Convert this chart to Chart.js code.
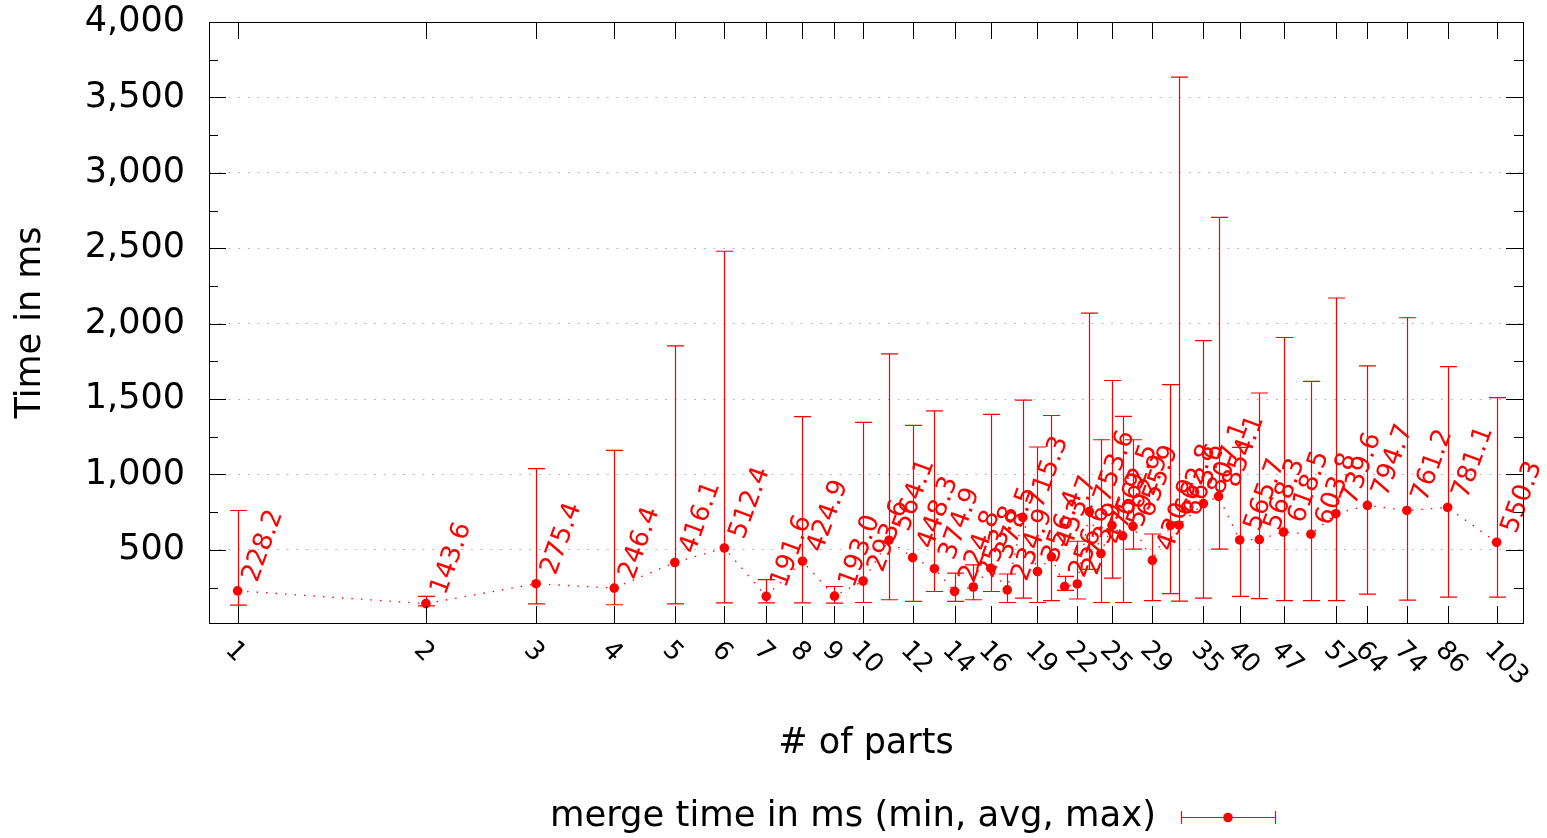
<!DOCTYPE html>
<html>
<head>
<meta charset="utf-8">
<script src="https://cdn.jsdelivr.net/npm/chart.js@4.4.1/dist/chart.umd.min.js"></script>
<style>
  html, body { margin: 0; padding: 0; background: #fff; }
</style>
</head>
<body>
<canvas id="mergeChart" width="1547" height="838"></canvas>
<script>
// merge time per number of parts (ms)
var parts = [1, 2, 3, 4, 5, 6, 7, 8, 9, 10, 11, 12, 13, 14, 15, 16, 17, 18, 19, 20,
             21, 22, 23, 24, 25, 26, 27, 29, 31, 32, 35, 37, 40, 43, 47, 52, 57, 64, 74, 86, 103];
var avgMs = [228.2, 143.6, 275.4, 246.4, 416.1, 512.4, 191.6, 424.9, 193.0, 293.6,
             564.1, 448.3, 374.9, 224.8, 253.8, 378.5, 234.9, 715.3, 356.4, 453.7,
             256.6, 273.9, 753.6, 475.9, 662.5, 592.9, 655.9, 430.9, 662.8, 663.6,
             807.1, 854.1, 565.7, 568.3, 618.5, 603.8, 739.6, 794.7, 761.2, 781.1, 550.3];
var minMs = [134, 129, 142, 136, 142, 149, 149, 149, 147, 151,
             169, 158, 224, 158, 169, 224, 151, 180, 151, 164,
             231, 174, 370, 151, 313, 151, 505, 164, 210, 160,
             180, 505, 191, 176, 164, 164, 164, 207, 167, 187, 187];
var maxMs = [761, 191, 1038, 1160, 1853, 2480, 302, 1383, 257, 1345,
             1800, 1325, 1422, 346, 401, 1398, 340, 1493, 1182, 1391,
             324, 557, 2070, 1230, 1623, 1385, 1230, 605, 1595, 3635,
             1887, 2704, 1180, 1540, 1908, 1617, 2170, 1720, 2039, 1715, 1510];
var tickParts = [1, 2, 3, 4, 5, 6, 7, 8, 9, 10, 12, 14, 16, 19, 22, 25, 29, 35, 40, 47, 57, 64, 74, 86, 103];
var yTicks = [500, 1000, 1500, 2000, 2500, 3000, 3500, 4000];

var RED = '#ff0000';
var FONT = '"DejaVu Sans", sans-serif';
var CAP = 8.5;

var gnuplotLook = {
    id: 'gnuplotLook',
    beforeDatasetsDraw: function(chart) {
        var ctx = chart.ctx, xs = chart.scales.x, ys = chart.scales.y;
        ctx.save();
        ctx.strokeStyle = RED;
        ctx.lineWidth = 1.2;
        for (var i = 0; i < parts.length; i++) {
            var px = Math.round(xs.getPixelForValue(parts[i])) + 0.5;
            var top = ys.getPixelForValue(maxMs[i]);
            var bot = ys.getPixelForValue(minMs[i]);
            ctx.beginPath();
            ctx.moveTo(px, top);
            ctx.lineTo(px, bot);
            ctx.moveTo(px - CAP, top);
            ctx.lineTo(px + CAP, top);
            ctx.moveTo(px - CAP, bot);
            ctx.lineTo(px + CAP, bot);
            ctx.stroke();
        }
        ctx.restore();
    },
    afterDatasetsDraw: function(chart) {
        var ctx = chart.ctx, xs = chart.scales.x, ys = chart.scales.y;
        ctx.save();
        ctx.fillStyle = RED;
        ctx.font = '26px ' + FONT;
        ctx.textAlign = 'left';
        ctx.textBaseline = 'middle';
        for (var i = 0; i < parts.length; i++) {
            var px = xs.getPixelForValue(parts[i]);
            var py = ys.getPixelForValue(avgMs[i]);
            ctx.save();
            ctx.translate(px + 13, py - 10);
            ctx.rotate(-70 * Math.PI / 180);
            ctx.fillText(avgMs[i].toFixed(1), 0, 0);
            ctx.restore();
        }
        ctx.restore();
    },
    afterDraw: function(chart) {
        var ctx = chart.ctx, xs = chart.scales.x, ys = chart.scales.y;
        var a = chart.chartArea;
        ctx.save();
        // frame
        ctx.strokeStyle = '#000';
        ctx.lineWidth = 1;
        ctx.strokeRect(Math.round(a.left) + 0.5, Math.round(a.top) + 0.5,
                       Math.round(a.right - a.left), Math.round(a.bottom - a.top));
        // y ticks, inward on both sides, minor ticks halfway
        ctx.beginPath();
        for (var v = 250; v <= 4000; v += 250) {
            var y = Math.round(ys.getPixelForValue(v)) + 0.5;
            var len = (v % 500 === 0) ? 17 : 9;
            ctx.moveTo(a.left, y); ctx.lineTo(a.left + len, y);
            ctx.moveTo(a.right, y); ctx.lineTo(a.right - len, y);
        }
        // x ticks, bottom and top
        tickParts.forEach(function(t) {
            var x = Math.round(xs.getPixelForValue(t)) + 0.5;
            ctx.moveTo(x, a.bottom); ctx.lineTo(x, a.bottom - 17);
            ctx.moveTo(x, a.top); ctx.lineTo(x, a.top + 17);
        });
        ctx.stroke();
        // x tick labels rotated by -45
        ctx.fillStyle = '#000';
        ctx.font = '26px ' + FONT;
        ctx.textAlign = 'left';
        ctx.textBaseline = 'alphabetic';
        tickParts.forEach(function(t) {
            var x = xs.getPixelForValue(t);
            ctx.save();
            ctx.translate(x - 13, a.bottom + 28);
            ctx.rotate(Math.PI / 4);
            ctx.fillText(String(t), 0, 0);
            ctx.restore();
        });
        // x axis title
        ctx.font = '35px ' + FONT;
        ctx.textAlign = 'center';
        ctx.textBaseline = 'middle';
        ctx.fillText('# of parts', (a.left + a.right) / 2, 744);
        // key
        ctx.font = '35.4px ' + FONT;
        ctx.textAlign = 'right';
        ctx.fillText('merge time in ms (min, avg, max)', 1156, 817);
        ctx.strokeStyle = RED;
        ctx.lineWidth = 1.2;
        ctx.beginPath();
        ctx.moveTo(1181, 817.5); ctx.lineTo(1276, 817.5);
        ctx.moveTo(1181.5, 811); ctx.lineTo(1181.5, 824);
        ctx.moveTo(1275.5, 811); ctx.lineTo(1275.5, 824);
        ctx.stroke();
        ctx.fillStyle = RED;
        ctx.beginPath();
        ctx.arc(1228, 817.5, 4.8, 0, Math.PI * 2);
        ctx.fill();
        ctx.restore();
    }
};

var ctx = document.getElementById('mergeChart');
var mergeChart = new Chart(ctx, {
    type: 'scatter',
    data: {
        datasets: [{
            label: 'merge time in ms (min, avg, max)',
            data: parts.map(function(p, i) { return {x: p, y: avgMs[i]}; }),
            showLine: true,
            borderColor: RED,
            borderWidth: 1.3,
            borderDash: [1.5, 8],
            pointRadius: 4.8,
            pointBorderWidth: 0,
            pointBackgroundColor: RED
        }]
    },
    options: {
        responsive: false,
        animation: false,
        devicePixelRatio: 1,
        layout: { padding: { left: 0, top: 22, right: 24, bottom: 0 } },
        plugins: {
            legend: { display: false },
            tooltip: { enabled: false }
        },
        scales: {
            x: {
                type: 'logarithmic',
                min: 0.9,
                max: 113.5,
                afterFit: function(scale) { scale.height = 215; },
                ticks: { display: false },
                grid: { display: false },
                border: { display: false }
            },
            y: {
                min: 15,
                max: 4000,
                afterFit: function(scale) { scale.width = 209; },
                afterBuildTicks: function(scale) {
                    scale.ticks = yTicks.map(function(v) { return {value: v}; });
                },
                ticks: {
                    padding: 0,
                    color: '#000',
                    font: { family: FONT, size: 35 },
                    callback: function(v) { return v.toLocaleString('en-US'); }
                },
                grid: { color: '#b8b8b8', lineWidth: 1, drawTicks: true, tickLength: 24, tickColor: 'rgba(0,0,0,0)' },
                border: { display: false, dash: [2, 7.7] },
                title: {
                    display: true,
                    text: 'Time in ms',
                    color: '#000',
                    font: { family: FONT, size: 35 },
                    padding: { top: 10, bottom: 0 }
                }
            }
        }
    },
    plugins: [gnuplotLook]
});
</script>
</body>
</html>
